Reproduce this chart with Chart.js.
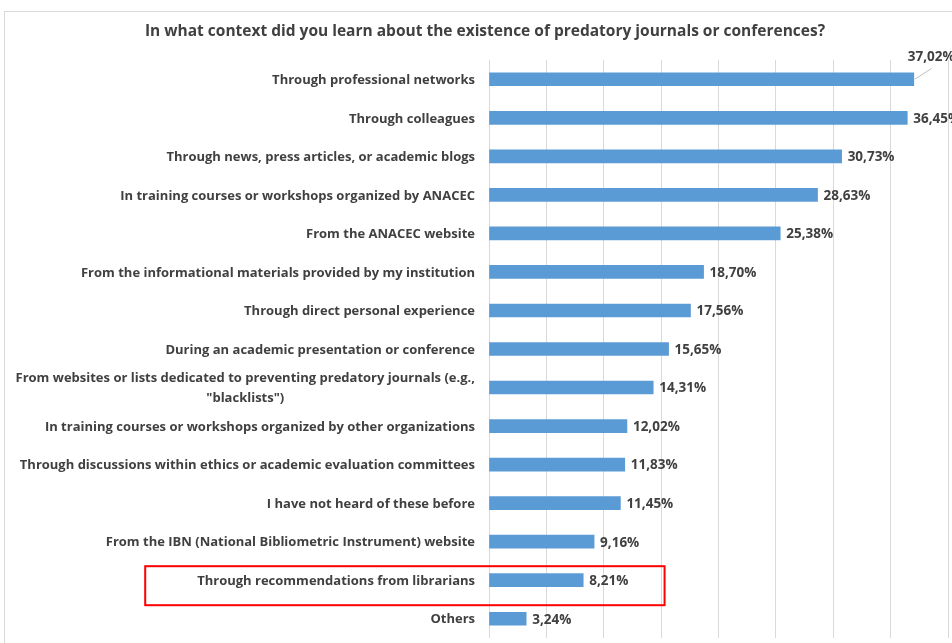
<!DOCTYPE html>
<html>
<head>
<meta charset="utf-8">
<script src="https://cdn.jsdelivr.net/npm/chart.js@4"></script>
<style>
html,body{margin:0;padding:0;background:#fff;}
#wrap{width:952px;height:643px;position:relative;}
</style>
</head>
<body>
<div id="wrap"><canvas id="c" width="952" height="643"></canvas></div>
<script>
const titleText = "In what context did you learn about the existence of predatory journals or conferences?";
const categories = [
  ["Through professional networks"],
  ["Through colleagues"],
  ["Through news, press articles, or academic blogs"],
  ["In training courses or workshops organized by ANACEC"],
  ["From the ANACEC website"],
  ["From the informational materials provided by my institution"],
  ["Through direct personal experience"],
  ["During an academic presentation or conference"],
  ["From websites or lists dedicated to preventing predatory journals (e.g.,", "\"blacklists\")"],
  ["In training courses or workshops organized by other organizations"],
  ["Through discussions within ethics or academic evaluation committees"],
  ["I have not heard of these before"],
  ["From the IBN (National Bibliometric Instrument) website"],
  ["Through recommendations from librarians"],
  ["Others"]
];
const values = [37.02, 36.45, 30.73, 28.63, 25.38, 18.70, 17.56, 15.65, 14.31, 12.02, 11.83, 11.45, 9.16, 8.21, 3.24];
const axisMin = 0;
const axisMax = 40;
const axisStep = 5;
const highlightIndex = 13;
const highlightRightValue = 15.3;

const TEXT = '#404040';
const LABEL_FONT = '700 13px "Open Sans"';
const VALUE_FONT = '700 13.5px "Open Sans"';

const fmt = v => v.toFixed(2).replace('.', ',') + '%';

const drawPlugin = {
  id: 'custom',
  beforeDraw(chart) {
    const ctx = chart.ctx;
    ctx.save();
    ctx.fillStyle = '#fff';
    ctx.fillRect(0, 0, chart.width, chart.height);
    ctx.strokeStyle = '#d9d9d9';
    ctx.lineWidth = 1;
    ctx.strokeRect(4.5, 11.5, chart.width + 20, chart.height + 20);
    ctx.restore();
  },
  afterDraw(chart) {
    const ctx = chart.ctx;
    const xs = chart.scales.x, ys = chart.scales.y;
    ctx.save();
    // title
    ctx.fillStyle = TEXT;
    ctx.font = '700 15.5px "Open Sans"';
    ctx.textAlign = 'center';
    ctx.textBaseline = 'middle';
    ctx.fillText(titleText, 485, 32);

    // category labels
    ctx.font = LABEL_FONT;
    const right = xs.left - 14;
    categories.forEach((lines, i) => {
      const cy = ys.getPixelForValue(i) + 1;
      const widths = lines.map(l => ctx.measureText(l).width);
      const maxW = Math.max(...widths);
      const lh = 20;
      const y0 = cy - (lines.length - 1) * lh / 2;
      lines.forEach((l, k) => {
        ctx.textAlign = 'center';
        ctx.fillText(l, right - maxW / 2, y0 + k * lh);
      });
    });

    // value labels
    const meta = chart.getDatasetMeta(0);
    ctx.font = VALUE_FONT;
    values.forEach((v, i) => {
      const bar = meta.data[i];
      const xEnd = bar.x, cy = bar.y;
      if (i === 0) {
        ctx.strokeStyle = '#bfbfbf';
        ctx.lineWidth = 1;
        ctx.beginPath();
        ctx.moveTo(xEnd + 1, cy);
        ctx.lineTo(xEnd + 18, cy - 11);
        ctx.stroke();
        ctx.textAlign = 'left';
        ctx.fillText(fmt(v), xEnd - 6, cy - 22);
      } else {
        ctx.textAlign = 'left';
        ctx.fillText(fmt(v), xEnd + 6, cy + 1);
      }
    });

    // highlight rectangle
    ctx.font = LABEL_FONT;
    const hl = categories[highlightIndex];
    const hw = Math.max(...hl.map(l => ctx.measureText(l).width));
    const hcy = ys.getPixelForValue(highlightIndex);
    const left = right - hw - 52;
    const rr = xs.getPixelForValue(highlightRightValue);
    ctx.strokeStyle = '#ff0000';
    ctx.lineWidth = 2;
    ctx.strokeRect(left, hcy - 14, rr - left, 39);
    ctx.restore();
  }
};

new Chart(document.getElementById('c'), {
  type: 'bar',
  data: {
    labels: categories.map(c => c.join(' ')),
    datasets: [{
      data: values,
      backgroundColor: '#5B9BD5',
      borderWidth: 0,
      barThickness: 13
    }]
  },
  options: {
    indexAxis: 'y',
    responsive: false,
    animation: false,
    devicePixelRatio: 1,
    layout: { padding: { top: 60, bottom: 5, left: 4, right: 4 } },
    plugins: { legend: { display: false }, tooltip: { enabled: false }, title: { display: false } },
    scales: {
      x: {
        min: axisMin, max: axisMax,
        ticks: { display: false, stepSize: axisStep },
        grid: { color: '#d9d9d9', drawTicks: false },
        border: { display: false },
        afterFit: s => { s.height = 0; }
      },
      y: {
        ticks: { display: false },
        grid: { display: false },
        border: { display: false },
        afterFit: s => { s.width = 485; }
      }
    }
  },
  plugins: [drawPlugin]
});
</script>
</body>
</html>
